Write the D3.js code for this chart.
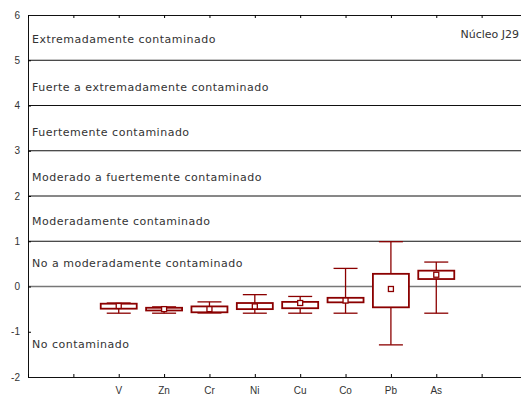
<!DOCTYPE html>
<meta charset="utf-8">
<script src="https://d3js.org/d3.v7.min.js"></script>
<style>
body { margin: 0; background: #fff; }
.zone { font-family: "DejaVu Sans", sans-serif; font-size: 11px; letter-spacing: 0.5px; fill: #333; }
.tick text { font-family: "Liberation Sans", Arial, sans-serif; font-size: 10px; fill: #333; }
</style>
<div id="chart"></div>
<script>
// element categories
const elements = ["V", "Zn", "Cr", "Ni", "Cu", "Co", "Pb", "As"];
// box plot values
const whiskerLow  = [-0.59, -0.59, -0.585, -0.59, -0.59, -0.59, -1.29, -0.59];
const boxLow      = [-0.49, -0.53, -0.57, -0.50, -0.48, -0.35, -0.46, 0.165];
const middle      = [-0.43, -0.50, -0.50, -0.44, -0.365, -0.31, -0.055, 0.26];
const boxHigh     = [-0.38, -0.47, -0.44, -0.365, -0.34, -0.25, 0.28, 0.35];
const whiskerHigh = [-0.365, -0.45, -0.34, -0.18, -0.22, 0.40, 0.99, 0.54];

// class boundaries and labels
const levels = [1, 2, 3, 4, 5];
const zoneNames = ["Extremadamente contaminado", "Fuerte a extremadamente contaminado",
  "Fuertemente contaminado", "Moderado a fuertemente contaminado",
  "Moderadamente contaminado", "No a moderadamente contaminado", "No contaminado"];
const zoneY = [5.47, 4.41, 3.41, 2.42, 1.45, 0.52, -1.27];
const yTicks = [-2, -1, 0, 1, 2, 3, 4, 5, 6];

const W = 521, H = 395;
const margin = {top: 15, left: 28, bottom: 18};

const svg = d3.select("#chart").append("svg")
  .attr("width", W).attr("height", H);

const x = d3.scaleLinear().domain([0, 11]).range([28, 527]);
const y = d3.scaleLinear().domain([-2, 6]).range([H - margin.bottom, margin.top]);

// reference lines
svg.selectAll(".lvl").data(levels).join("line")
  .attr("x1", x(0)).attr("x2", x(11))
  .attr("y1", d => y(d)).attr("y2", d => y(d))
  .attr("stroke", "#111").attr("stroke-width", 1);
svg.append("line")
  .attr("x1", x(0)).attr("x2", x(11))
  .attr("y1", y(0)).attr("y2", y(0))
  .attr("stroke", "#777").attr("stroke-width", 1.6);

// axes
svg.append("g")
  .attr("transform", `translate(${x(0)},0)`)
  .call(d3.axisLeft(y).tickValues(yTicks).tickSize(-3).tickPadding(8).tickFormat(d => String(d)))
  .call(g => g.select(".domain").attr("stroke", "#111"));
svg.append("g")
  .attr("transform", `translate(0,${y(-2)})`)
  .call(d3.axisBottom(x).tickValues(d3.range(0, 12)).tickSize(-3).tickFormat(""))
  .call(g => g.select(".domain").attr("stroke", "#111"));
svg.append("g")
  .attr("transform", `translate(0,${y(6)})`)
  .call(d3.axisTop(x).tickValues(d3.range(0, 12)).tickSize(-3).tickFormat(""))
  .call(g => g.select(".domain").attr("stroke", "#111"));

// category labels
svg.selectAll(".cat").data(elements).join("text")
  .attr("x", (d, i) => x(i + 2)).attr("y", y(-2) + 17)
  .attr("text-anchor", "middle")
  .style("font-family", "'Liberation Sans', Arial, sans-serif")
  .style("font-size", "10px").style("fill", "#333")
  .text(d => d);

// zone labels
svg.selectAll(".zone").data(zoneNames).join("text")
  .attr("class", "zone")
  .attr("x", 32).attr("y", (d, i) => y(zoneY[i]) + 4)
  .text(d => d);
svg.append("text").attr("class", "zone")
  .attr("x", 519).attr("y", y(5.58) + 4)
  .attr("text-anchor", "end")
  .style("letter-spacing", "0px")
  .text("Núcleo J29");

// box plots
const col = "#8b0000";
const bw = 36, cw = 24, mk = 5;
const g = svg.selectAll(".box").data(elements).join("g")
  .attr("transform", (d, i) => `translate(${x(i + 2)},0)`);
g.append("line")
  .attr("y1", (d, i) => y(whiskerHigh[i])).attr("y2", (d, i) => y(boxHigh[i]))
  .attr("stroke", col).attr("stroke-width", 1.3);
g.append("line")
  .attr("y1", (d, i) => y(boxLow[i])).attr("y2", (d, i) => y(whiskerLow[i]))
  .attr("stroke", col).attr("stroke-width", 1.3);
g.append("line")
  .attr("x1", -cw / 2).attr("x2", cw / 2)
  .attr("y1", (d, i) => y(whiskerHigh[i])).attr("y2", (d, i) => y(whiskerHigh[i]))
  .attr("stroke", col).attr("stroke-width", 1.3);
g.append("line")
  .attr("x1", -cw / 2).attr("x2", cw / 2)
  .attr("y1", (d, i) => y(whiskerLow[i])).attr("y2", (d, i) => y(whiskerLow[i]))
  .attr("stroke", col).attr("stroke-width", 1.3);
g.append("rect")
  .attr("x", -bw / 2).attr("width", bw)
  .attr("y", (d, i) => y(boxHigh[i]))
  .attr("height", (d, i) => y(boxLow[i]) - y(boxHigh[i]))
  .attr("fill", "#fff").attr("stroke", col).attr("stroke-width", 1.8);
g.append("rect")
  .attr("x", -mk / 2).attr("width", mk)
  .attr("y", (d, i) => y(middle[i]) - mk / 2).attr("height", mk)
  .attr("fill", "#fff").attr("stroke", col).attr("stroke-width", 1.3);
</script>
